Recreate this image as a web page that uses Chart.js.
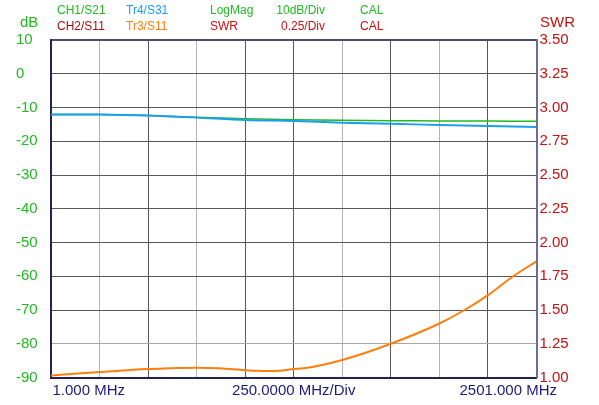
<!DOCTYPE html>
<html>
<head>
<meta charset="utf-8">
<script src="https://cdn.jsdelivr.net/npm/chart.js@4.4.1/dist/chart.umd.min.js"></script>
<style>
html,body{margin:0;padding:0;background:#fff;}
#wrap{width:599px;height:405px;position:relative;}
</style>
</head>
<body>
<div id="wrap"><canvas id="c" width="599" height="405"></canvas></div>
<script>
// ---- data (MHz, dB, SWR) ----
const freqDb = [1, 251, 501, 751, 1001, 1251, 1501, 1751, 2001, 2251, 2501];
const s21Db  = [-12.1, -12.1, -12.4, -12.9, -13.3, -13.6, -13.8, -13.9, -14.0, -14.0, -14.1];
const s31Db  = [-12.1, -12.1, -12.4, -13.0, -13.7, -14.0, -14.5, -14.8, -15.2, -15.5, -15.8];
const freqSwr = [1, 251, 501, 611, 751, 871, 1001, 1051, 1101, 1181, 1251, 1301, 1501, 1751, 2001, 2131, 2251, 2381, 2501];
const s11Swr  = [1.015, 1.04, 1.063, 1.068, 1.073, 1.068, 1.053, 1.05, 1.048, 1.05, 1.063, 1.068, 1.13, 1.25, 1.40, 1.5, 1.61, 1.75, 1.86];
const xGrid = [1, 251, 501, 751, 1001, 1251, 1501, 1751, 2001, 2251, 2501];
const xLabels = ["1.000 MHz", "250.0000 MHz/Div", "2501.000 MHz"];
const dbTitle = "dB";
const swrTitle = "SWR";
const headerRow1 = ["CH1/S21", "Tr4/S31", "LogMag", "10dB/Div", "CAL"];
const headerRow2 = ["CH2/S11", "Tr3/S11", "SWR", "0.25/Div", "CAL"];

const FONT = '"Liberation Sans", Arial, sans-serif';
const GREEN = '#22b922', BLUE = '#1a9ff0', ORANGE = '#ff7f0e', RED = '#c81010', DRED = '#a81010', NAVY = '#1c1c78';

const toPts = (xs, ys) => xs.map((x, i) => ({x: x, y: ys[i]}));

const textPlugin = {
  id: 'texts',
  afterDraw(chart) {
    const ctx = chart.ctx;
    const xs = chart.scales.x;
    ctx.save();
    ctx.textBaseline = 'middle';
    // header
    ctx.font = '12px ' + FONT;
    const r1Col = [GREEN, BLUE, GREEN, GREEN, GREEN];
    const r2Col = [DRED, ORANGE, RED, RED, RED];
    const pos = [[57,'left'],[126,'left'],[210,'left'],[325,'right'],[360,'left']];
    headerRow1.forEach((t,i)=>{ctx.fillStyle=r1Col[i];ctx.textAlign=pos[i][1];ctx.fillText(t,pos[i][0],11);});
    headerRow2.forEach((t,i)=>{ctx.fillStyle=r2Col[i];ctx.textAlign=pos[i][1];ctx.fillText(t,pos[i][0],27);});
    // axis titles
    ctx.font = '15px ' + FONT;
    ctx.textAlign = 'left';
    ctx.fillStyle = GREEN; ctx.fillText(dbTitle, 20, 23);
    ctx.fillStyle = RED; ctx.fillText(swrTitle, 540, 23);
    // bottom labels
    ctx.fillStyle = NAVY;
    ctx.textAlign = 'left'; ctx.fillText(xLabels[0], xs.left + 1.5, 391);
    ctx.textAlign = 'center'; ctx.fillText(xLabels[1], xs.getPixelForValue(xGrid[5]), 391);
    ctx.textAlign = 'right'; ctx.fillText(xLabels[2], xs.right + 20.5, 391);
    ctx.restore();
  }
};

new Chart(document.getElementById('c'), {
  type: 'line',
  data: {
    datasets: [
      {label: 'Tr4/S31', data: toPts(freqDb, s31Db), yAxisID: 'y', borderColor: BLUE, borderWidth: 2, pointRadius: 0, tension: 0.3},
      {label: 'CH1/S21', data: toPts(freqDb, s21Db), yAxisID: 'y', borderColor: GREEN, borderWidth: 1.5, pointRadius: 0, tension: 0.3},
      {label: 'Tr3/S11', data: toPts(freqSwr, s11Swr), yAxisID: 'y1', borderColor: ORANGE, borderWidth: 2, pointRadius: 0, cubicInterpolationMode: 'monotone'}
    ]
  },
  options: {
    responsive: false,
    animation: false,
    devicePixelRatio: 1,
    layout: {padding: {left: 16, top: 40, right: 0, bottom: 0}},
    plugins: {legend: {display: false}, tooltip: {enabled: false}},
    scales: {
      x: {
        type: 'linear', min: xGrid[0], max: xGrid[xGrid.length-1],
        afterBuildTicks: s => { s.ticks = xGrid.map(v => ({value: v})); },
        afterFit: s => { s.height = 27.5; },
        ticks: {display: false},
        grid: {drawTicks: false, color: c => [1,3,6,8].includes(c.index) ? '#b4b4b4' : '#585858', lineWidth: 1},
        border: {color: '#22224e', width: 2}
      },
      y: {
        position: 'left', min: -90, max: 10,
        afterFit: s => { s.width = 35; },
        ticks: {stepSize: 10, crossAlign: 'far', color: GREEN, font: {size: 15, family: FONT}, padding: 0},
        grid: {drawTicks: false, color: c => c.index === 10 ? '#4a4a72' : (c.index === 1 ? '#a8a8a8' : '#585858'), lineWidth: c => c.index === 10 ? 2 : 1},
        border: {color: '#22224e', width: 2}
      },
      y1: {
        position: 'right', min: 1, max: 3.5,
        afterFit: s => { s.width = 62.5; },
        ticks: {stepSize: 0.25, color: RED, font: {size: 15, family: FONT}, padding: 3, callback: v => Number(v).toFixed(2)},
        grid: {display: false, drawTicks: false},
        border: {color: '#6c6c94', width: 2}
      }
    }
  },
  plugins: [textPlugin]
});
</script>
</body>
</html>
